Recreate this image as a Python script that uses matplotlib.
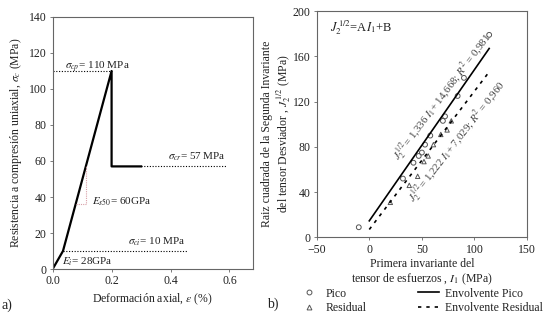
import matplotlib
matplotlib.use("Agg")
import matplotlib.pyplot as plt
from matplotlib.lines import Line2D

plt.rcParams["font.family"] = ["Liberation Serif", "DejaVu Serif"]
plt.rcParams["mathtext.fontset"] = "stix"
plt.rcParams["font.size"] = 8

# a) stress-strain curve
strain = [0.0, 0.035, 0.2, 0.2, 0.3]
stress = [0.0, 10, 110, 57, 57]
sig_peak, sig_res, sig_ci = 110, 57, 10

# slope triangle for E_s50
tri_x = [0.078, 0.113, 0.113]
tri_y = [36, 36, 57]

# b) invariants
pico_i1 = [-10, 32, 42, 47, 50, 53, 58, 70, 72, 84, 90, 114]
pico_j2 = [9, 52, 66, 72, 75, 82, 90, 103, 107, 125, 141, 179]
res_i1 = [20, 38, 46, 52, 56, 61, 68, 74, 78]
res_j2 = [31, 46, 54, 67, 72, 82, 91, 95, 103]

fit_x = [0, 114]
A_pico, B_pico = 1.336, 14.668
A_res, B_res = 1.222, 7.029

txt = "#222222"
spine_c = "#666666"

fig = plt.figure(figsize=(5.47, 3.17), dpi=100)
ax1 = fig.add_axes([0.0963, 0.1514, 0.3662, 0.7950])
ax2 = fig.add_axes([0.5790, 0.2510, 0.3845, 0.7140])

for ax in (ax1, ax2):
    for s in ax.spines.values():
        s.set_color(spine_c)
        s.set_linewidth(0.8)
    ax.tick_params(colors=txt, color=spine_c, length=2.5, width=0.6, labelsize=8.5, pad=2)

# ---- panel a
ax1.plot(strain, stress, color="black", lw=1.6)
ax1.plot([0, 0.2], [sig_peak, sig_peak], color="black", ls=(0, (1, 1.5)), lw=0.8)
ax1.plot([0.3, 0.59], [sig_res, sig_res], color="black", ls=(0, (1, 1.5)), lw=0.8)
ax1.plot([0.035, 0.46], [sig_ci, sig_ci], color="black", ls=(0, (1, 1.5)), lw=0.8)
ax1.plot(tri_x, tri_y, color="#d8a0a8", ls=(0, (1, 1)), lw=0.8)

ax1.text(0.042, 112, r"$\sigma_{cp}$= 110 MPa", color=txt, fontsize=8, va="center")
ax1.text(0.393, 62.4, r"$\sigma_{cr}$= 57 MPa", color=txt, fontsize=8, va="center")
ax1.text(0.257, 15.2, r"$\sigma_{ci}$= 10 MPa", color=txt, fontsize=8, va="center")
ax1.text(0.133, 37.4, r"$E_{s50}$= 60GPa", color=txt, fontsize=8, va="center")
ax1.text(0.03, 4, r"$E_{i}$= 28GPa", color=txt, fontsize=8, va="center")

ax1.set_xlim(0, 0.68)
ax1.set_ylim(0, 140)
ax1.set_xticks([0.0, 0.2, 0.4, 0.6])
ax1.set_xticklabels(["0.0", "0.2", "0.4", "0.6"])
ax1.set_yticks(range(0, 141, 20))
ax1.set_xlabel(r"Deformación axial, $\varepsilon$ (%)", color=txt, fontsize=8.5, labelpad=3)
ax1.set_ylabel(r"Resistencia a compresión uniaxial, $\sigma_c$ (MPa)", color=txt, fontsize=8.5, labelpad=3)

# ---- panel b
ax2.scatter(pico_i1, pico_j2, s=12, facecolors="none", edgecolors="#555555", linewidths=0.7, marker="o")
ax2.scatter(res_i1, res_j2, s=10, facecolors="none", edgecolors="#555555", linewidths=0.7, marker="^")
ax2.plot(fit_x, [A_pico * x + B_pico for x in fit_x], color="black", lw=1.2)
ax2.plot(fit_x, [A_res * x + B_res for x in fit_x], color="black", lw=1.2, ls=(0, (2, 3)))

ax2.text(-37.5, 185, r"$J_2^{\,1/2}$=A$I_1$+B", color=txt, fontsize=9, va="center")
ax2.text(69.5, 124, r"$J_2^{\,1/2}$= 1,336 $I_1$+ 14,668; $R^2$ = 0,981",
         color="#444444", fontsize=7.8, rotation=53, rotation_mode="anchor", ha="center", va="center")
ax2.text(83.5, 85, r"$J_2^{\,1/2}$= 1,222 $I_1$+ 7,029; $R^2$ = 0,960",
         color="#444444", fontsize=7.8, rotation=52, rotation_mode="anchor", ha="center", va="center")

ax2.set_xlim(-50, 150)
ax2.set_ylim(0, 200)
ax2.set_xticks([-50, 0, 50, 100, 150])
ax2.set_yticks([0, 40, 80, 120, 160, 200])
ax2.set_xlabel("Primera invariante del\n" + r"tensor de esfuerzos , $I_1$ (MPa)",
               color=txt, fontsize=8.5, labelpad=2, linespacing=1.15)
ax2.set_ylabel("Raiz cuadrada de la Segunda Invariante\n" + r"del tensor Desviador , $J_2^{\,1/2}$ (MPa)",
               color=txt, fontsize=8.5, linespacing=1.15)
ax2.yaxis.set_label_coords(-0.113, 0.46)

handles = [
    Line2D([], [], ls="none", marker="o", ms=3.5, mfc="none", mec="#555555", mew=0.7),
    Line2D([], [], ls="none", marker="^", ms=3.5, mfc="none", mec="#555555", mew=0.7),
    Line2D([], [], color="black", lw=1.2),
    Line2D([], [], color="black", lw=1.2, ls=(0, (2, 3))),
]
labels = ["Pico", "Residual", "Envolvente Pico", "Envolvente Residual"]
leg = fig.legend(handles, labels, loc="upper left", bbox_to_anchor=(0.545, 0.093), ncol=2,
                 frameon=False, fontsize=8.5, handlelength=1.8, columnspacing=4.4,
                 labelspacing=0.25, handletextpad=0.5, borderaxespad=0, borderpad=0)
for t in leg.get_texts():
    t.set_color(txt)

fig.text(0.003, 0.025, "a)", fontsize=10, color=txt)
fig.text(0.488, 0.03, "b)", fontsize=10, color=txt)

fig.savefig("out.png", dpi=100)
